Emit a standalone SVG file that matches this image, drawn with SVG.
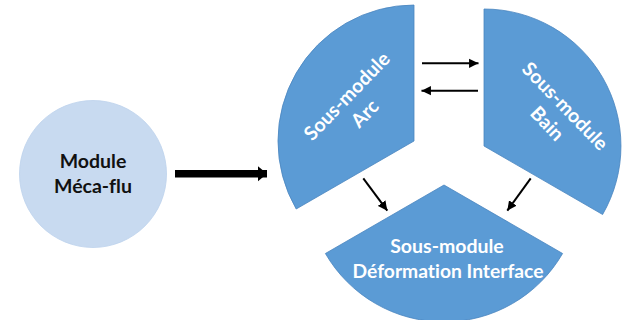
<svg xmlns="http://www.w3.org/2000/svg" width="625" height="320" viewBox="0 0 625 320">
<style>
.sector{fill:#5b9bd5;stroke:#4a85bf;stroke-width:0.8}
.lbl{font-family:Lato,"Liberation Sans",sans-serif;font-weight:bold;font-size:19.5px;text-anchor:middle;font-variant-ligatures:none}
.w{fill:#ffffff}
.k{fill:#111111}
.thin{stroke:#000;stroke-width:2;fill:none}
</style>
<defs>
<marker id="ah" markerUnits="userSpaceOnUse" markerWidth="10" markerHeight="10" viewBox="0 0 9 9" refX="8.5" refY="4.5" orient="auto">
<path d="M0,0.3 L8.5,4.5 L0,8.7 Z" fill="#000"/>
</marker>
<marker id="ahbig" markerUnits="userSpaceOnUse" markerWidth="10" markerHeight="16" viewBox="0 0 10 16" refX="9" refY="8" orient="auto">
<path d="M0,0.5 L9,8 L0,15.5 Z" fill="#000"/>
</marker>
</defs>
<g id="module-meca-flu">
<circle cx="93" cy="174" r="73.5" fill="#c8daf0" stroke="#bcd2ec" stroke-width="0.8"/>
<text class="lbl k" x="93" y="168">Module</text>
<text class="lbl k" x="93" y="193">Méca-flu</text>
</g>
<g id="sous-module-arc">
<path class="sector" d="M414,141 L414,5 A136,136 0 0 0 296.2,209 Z"/>
<g transform="translate(356,105) rotate(-46)">
<text class="lbl w" x="0" y="-6">Sous-module</text>
<text class="lbl w" x="0" y="19">Arc</text>
</g>
</g>
<g id="sous-module-bain">
<path class="sector" d="M484,146 L484,9 A137,137 0 0 1 602.6,214.5 Z"/>
<g transform="translate(556,115) rotate(46)">
<text class="lbl w" x="0" y="-6">Sous-module</text>
<text class="lbl w" x="0" y="19">Bain</text>
</g>
</g>
<g id="sous-module-deformation">
<path class="sector" d="M444,185 L562.6,253.5 A137,137 0 0 1 325.4,253.5 Z"/>
<text class="lbl w" x="447" y="253">Sous-module</text>
<text class="lbl w" x="448" y="278" textLength="191" lengthAdjust="spacingAndGlyphs">Déformation Interface</text>
</g>
<g id="connectors">
<line x1="175" y1="173.7" x2="267" y2="173.7" stroke="#000" stroke-width="7.5" marker-end="url(#ahbig)"/>
<line class="thin" x1="422" y1="63.3" x2="478.5" y2="63.3" marker-end="url(#ah)"/>
<line class="thin" x1="478" y1="90.7" x2="421.5" y2="90.7" marker-end="url(#ah)"/>
<line class="thin" x1="363.3" y1="178.3" x2="387.3" y2="210.7" marker-end="url(#ah)"/>
<line class="thin" x1="530.7" y1="178.3" x2="507.3" y2="210.7" marker-end="url(#ah)"/>
</g>
</svg>
